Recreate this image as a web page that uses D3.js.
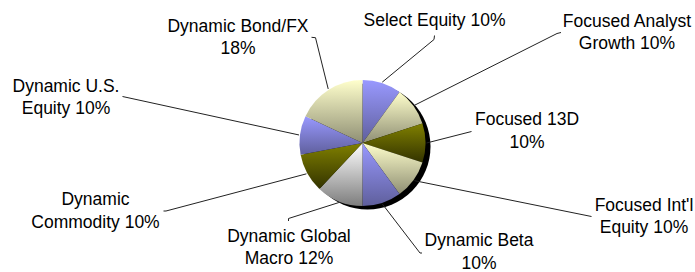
<!DOCTYPE html>
<html><head><meta charset="utf-8">
<script src="https://cdn.jsdelivr.net/npm/d3@7"></script>
<style>html,body{margin:0;padding:0;background:#fff;}svg{display:block;}</style>
</head><body>
<svg id="chart" width="695" height="272"></svg>
<script>
// ---- data ----
const categories = ["Select Equity", "Focused Analyst Growth", "Focused 13D", "Focused Int'l Equity",
  "Dynamic Beta", "Dynamic Global Macro", "Dynamic Commodity", "Dynamic U.S. Equity", "Dynamic Bond/FX"];
const values = [10, 10, 10, 10, 10, 12, 10, 10, 18];
const fillKeys = ["blue", "cream", "olive", "cream", "blue", "white", "olive", "blue", "cream"];

// ---- layout (not data) ----
const cx = 362.5, cy = 143, R = 63;
const lineH = 22.5;
const breakAfter = [3, 2, 2, 2, 2, 2, 1, 2, 2];
const labelPos = [[434.5,25.5],[627,26.7],[527,125],[644,210.7],[479,246],[289,241.7],[95.5,205],[66,91.7],[238,31.7]];
const elbows = [
  [[434.5,35.5],[434,39.5]],
  [[561,32.5],[557,33.5]],
  [[471.5,131.5]],
  [[591.5,216.5]],
  [[422,253],[420,253]],
  [[288.5,221],[288.5,218.5]],
  [[163.5,211],[166,211]],
  [[122.5,96.5]],
  [[311.5,37.3],[315.5,37.7]]
];
const gradStops = {
  blue: ["#9999ff", "#5f5f9c"],
  cream: ["#ffffcc", "#8f8f74"],
  olive: ["#808000", "#333300"],
  white: ["#ffffff", "#7d7d7d"]
};

const svg = d3.select("#chart");
const defs = svg.append("defs");
Object.entries(gradStops).forEach(([k, [c0, c1]]) => {
  const g = defs.append("linearGradient").attr("id", "g-" + k)
    .attr("x1", 0).attr("y1", 0).attr("x2", 0).attr("y2", 1);
  g.append("stop").attr("offset", "0%").attr("stop-color", c0);
  g.append("stop").attr("offset", "100%").attr("stop-color", c1);
});

const pie = d3.pie().sort(null).value(d => d)(values);
const arc = d3.arc().innerRadius(0).outerRadius(R);
const edge = d3.arc().innerRadius(R + 1).outerRadius(R + 1);

// shadow
svg.append("circle").attr("cx", cx + 5).attr("cy", cy + 3.5).attr("r", R).attr("fill", "#000");

const gPie = svg.append("g").attr("transform", `translate(${cx},${cy})`);
gPie.selectAll("path").data(pie).join("path")
  .attr("d", arc)
  .attr("fill", (d, i) => `url(#g-${fillKeys[i]})`);

// leader lines
const line = d3.line();
svg.append("g").selectAll("path").data(pie).join("path")
  .attr("d", (d, i) => {
    const c = edge.centroid(d);
    const pts = [...elbows[i], [cx + c[0], cy + c[1]]];
    return line(pts);
  })
  .attr("fill", "none").attr("stroke", "#222").attr("stroke-width", 1);

// labels
const labels = svg.append("g")
  .attr("font-family", "'Liberation Sans', Arial, sans-serif")
  .attr("font-size", "17.5px").attr("fill", "#000").attr("text-anchor", "middle");
categories.forEach((cat, i) => {
  const words = `${cat} ${values[i]}%`.split(" ");
  const lines = [words.slice(0, breakAfter[i]).join(" "), words.slice(breakAfter[i]).join(" ")].filter(s => s);
  const t = labels.append("text").attr("x", labelPos[i][0]).attr("y", labelPos[i][1]);
  lines.forEach((s, j) => {
    t.append("tspan").attr("x", labelPos[i][0]).attr("y", labelPos[i][1] + j * lineH).text(s);
  });
});
</script>
</body></html>
